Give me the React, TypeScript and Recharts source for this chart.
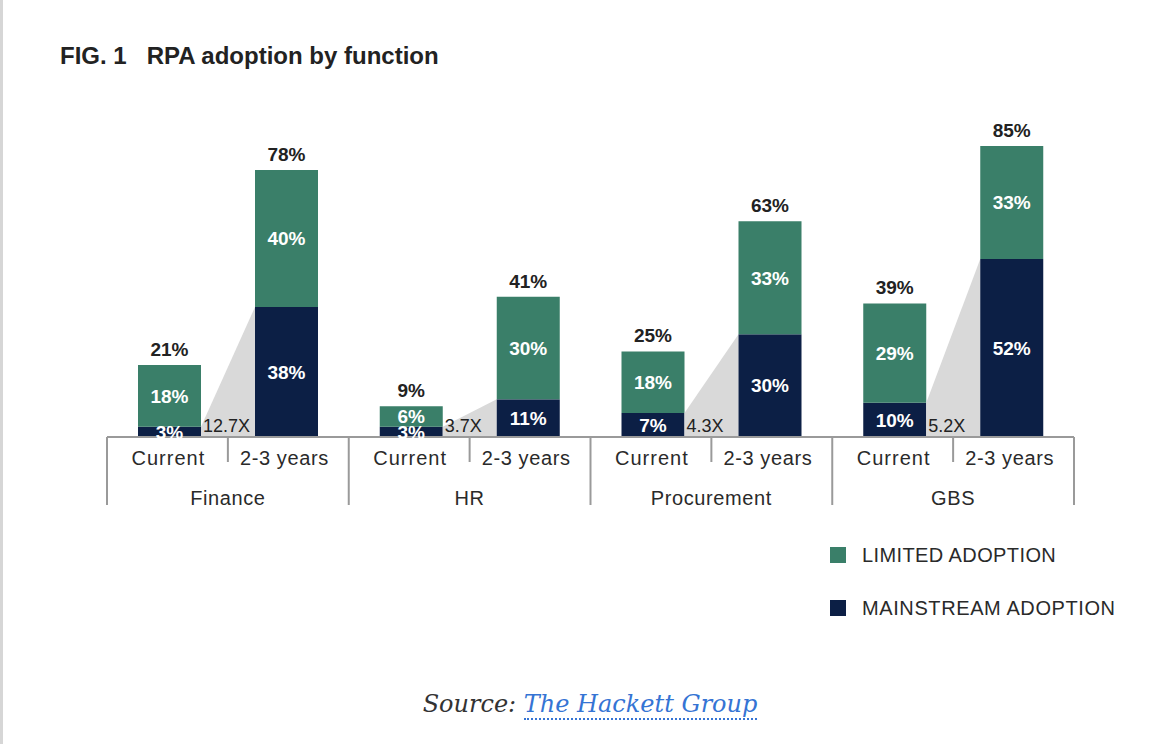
import React from 'react';
import { BarChart, Bar, XAxis, YAxis, LabelList } from 'recharts';

const functions = ['Finance', 'HR', 'Procurement', 'GBS'];
const periods = ['Current', '2-3 years'];
const currentMainstream = [3, 3, 7, 10];
const currentLimited = [18, 6, 18, 29];
const currentTotal = [21, 9, 25, 39];
const futureMainstream = [38, 11, 30, 52];
const futureLimited = [40, 30, 33, 33];
const futureTotal = [78, 41, 63, 85];
const multipliers = ['12.7X', '3.7X', '4.3X', '5.2X'];
const seriesNames = ['LIMITED ADOPTION', 'MAINSTREAM ADOPTION'];

const TEAL = '#3a7f69';
const NAVY = '#0c1f45';
const GREY_WEDGE = '#d9d9d9';
const AXIS = '#9a9a9a';
const FONT = '"Liberation Sans", Arial, Helvetica, sans-serif';

const W = 1166;
const H = 744;
const M = { top: 146, right: 92, bottom: 237, left: 107 };
const X_AXIS_H = 70;
const PLOT_W = W - M.left - M.right;
const BAR = 63;
const GAP = 54;

const data = functions.map((f, i) => ({
  name: f,
  cm: currentMainstream[i],
  cl: currentLimited[i],
  ct: currentTotal[i],
  fm: futureMainstream[i],
  fl: futureLimited[i],
  ft: futureTotal[i],
  mult: multipliers[i],
}));

const BAND = PLOT_W / data.length;

const FutureMainShape = (props: any) => {
  const { x, y, width, height, payload } = props;
  const base = y + height;
  const perUnit = payload.fm > 0 ? height / payload.fm : 0;
  const prevTop = base - payload.cm * perUnit;
  const x0 = x - GAP;
  return (
    <g>
      <polygon points={`${x0},${base} ${x0},${prevTop} ${x},${y} ${x},${base}`} fill={GREY_WEDGE} />
      <text x={x0 + 2} y={base - 5} fontSize={18} fill="#222" fontFamily={FONT}>
        {payload.mult}
      </text>
      <rect x={x} y={y} width={width} height={height} fill={NAVY} />
    </g>
  );
};

const AxisTick = (props: any) => {
  const { x, y, index } = props;
  const d = data[index];
  if (!d) return null;
  const left = x - BAND / 2;
  const right = x + BAND / 2;
  const off = (BAR + GAP) / 2;
  const label = { fontSize: 20, fill: '#2a2a2a', fontFamily: FONT, textAnchor: 'middle' as const };
  return (
    <g>
      <line x1={left} x2={left} y1={y} y2={y + 68} stroke={AXIS} strokeWidth={2} />
      {index === data.length - 1 && (
        <line x1={right} x2={right} y1={y} y2={y + 68} stroke={AXIS} strokeWidth={2} />
      )}
      <line x1={x} x2={x} y1={y} y2={y + 25} stroke={AXIS} strokeWidth={2} />
      <text x={x - off - 1} y={y + 28} letterSpacing={1} {...label}>
        {periods[0]}
      </text>
      <text x={x + off - 2} y={y + 28} letterSpacing={0.6} {...label}>
        {periods[1]}
      </text>
      <text x={x} y={y + 68} letterSpacing={0.6} {...label}>
        {d.name}
      </text>
    </g>
  );
};

const segLabel = {
  position: 'center' as const,
  fill: '#fff',
  fontSize: 19,
  fontWeight: 'bold',
  fontFamily: FONT,
  formatter: (v: any) => `${v}%`,
};
const totLabel = {
  position: 'top' as const,
  offset: 9,
  fill: '#222',
  fontSize: 19,
  fontWeight: 'bold',
  fontFamily: FONT,
  formatter: (v: any) => `${v}%`,
};

export default function App() {
  return (
    <div
      style={{
        position: 'absolute',
        left: 0,
        top: 0,
        width: W,
        height: H,
        background: '#fff',
        fontFamily: FONT,
        overflow: 'hidden',
      }}
    >
      <div style={{ position: 'absolute', left: 0, top: 0, width: 3, height: H, background: '#d6d6d6' }} />
      <div style={{ position: 'absolute', left: 0, top: 0 }}>
        <BarChart width={W} height={H} data={data} margin={M} barSize={BAR} barGap={GAP}>
          <YAxis hide domain={[0, 85]} />
          <XAxis
            dataKey="name"
            height={X_AXIS_H}
            interval={0}
            tickSize={0}
            tickMargin={0}
            tickLine={false}
            axisLine={{ stroke: AXIS, strokeWidth: 2 }}
            tick={<AxisTick />}
          />
          <Bar dataKey="cm" stackId="cur" fill={NAVY} isAnimationActive={false}>
            <LabelList dataKey="cm" {...segLabel} />
          </Bar>
          <Bar dataKey="cl" stackId="cur" fill={TEAL} isAnimationActive={false}>
            <LabelList dataKey="cl" {...segLabel} />
            <LabelList dataKey="ct" {...totLabel} />
          </Bar>
          <Bar dataKey="fm" stackId="fut" fill={NAVY} shape={<FutureMainShape />} isAnimationActive={false}>
            <LabelList dataKey="fm" {...segLabel} />
          </Bar>
          <Bar dataKey="fl" stackId="fut" fill={TEAL} isAnimationActive={false}>
            <LabelList dataKey="fl" {...segLabel} />
            <LabelList dataKey="ft" {...totLabel} />
          </Bar>
        </BarChart>
      </div>
      <svg width={W} height={H} style={{ position: 'absolute', left: 0, top: 0, pointerEvents: 'none' }}>
        <text x={60} y={64} fontSize={24} fontWeight="bold" fill="#222" fontFamily={FONT} style={{ whiteSpace: 'pre' }}>
          {'FIG. 1   RPA adoption by function'}
        </text>
        <rect x={830} y={547} width={16} height={16} fill={TEAL} />
        <text x={862} y={562} fontSize={20} letterSpacing={0.4} fill="#2a2a2a" fontFamily={FONT}>
          {seriesNames[0]}
        </text>
        <rect x={830} y={600} width={16} height={16} fill={NAVY} />
        <text x={862} y={615} fontSize={20} letterSpacing={0.6} fill="#2a2a2a" fontFamily={FONT}>
          {seriesNames[1]}
        </text>
      </svg>
      <div
        style={{
          position: 'absolute',
          left: 0,
          width: W,
          top: 688,
          textAlign: 'center',
          fontFamily: '"DejaVu Serif", Georgia, serif',
          fontStyle: 'italic',
          fontSize: 24,
          lineHeight: '32px',
          paddingLeft: 14,
          boxSizing: 'border-box',
        }}
      >
        <span style={{ color: '#333' }}>Source: </span>
        <span style={{ color: '#3574d4', borderBottom: '2px dotted #3574d4' }}>The Hackett Group</span>
      </div>
    </div>
  );
}
